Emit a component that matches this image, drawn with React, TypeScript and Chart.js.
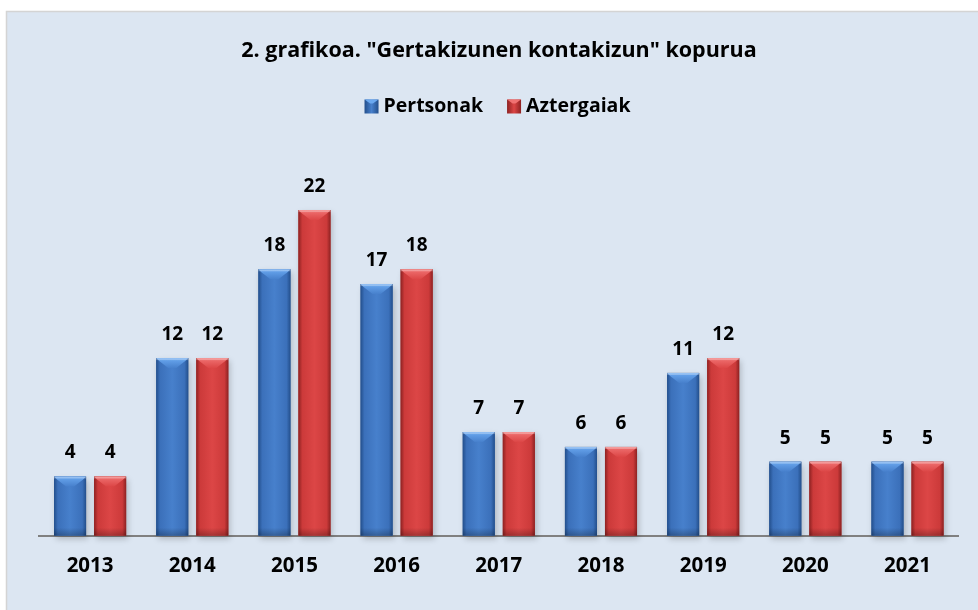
import { useEffect, useRef } from 'react';
import { Chart, registerables } from 'chart.js';

Chart.register(...registerables);

const categories = ['2013', '2014', '2015', '2016', '2017', '2018', '2019', '2020', '2021'];
const pertsonak = [4, 12, 18, 17, 7, 6, 11, 5, 5];
const aztergaiak = [4, 12, 22, 18, 7, 6, 12, 5, 5];
const seriesNames = ['Pertsonak', 'Aztergaiak'];
const titleText = '2. grafikoa. "Gertakizunen kontakizun" kopurua';
const yMax = 25;

const FONT = '"Open Sans", Lato, sans-serif';

const palettes = [
  { base: '#3b70ba', dark: '#234f8c', light: '#6aa8f0', mid: '#4780cc' },
  { base: '#cc3a3a', dark: '#8e2222', light: '#f07272', mid: '#dc4646' },
];

const decorPlugin = {
  id: 'decor',
  beforeDraw(chart: any) {
    const ctx = chart.ctx;
    ctx.save();
    ctx.fillStyle = '#ffffff';
    ctx.fillRect(0, 0, chart.width, chart.height);
    ctx.fillStyle = '#dce6f2';
    ctx.fillRect(6, 11, chart.width, chart.height);
    ctx.strokeStyle = '#d4d4d4';
    ctx.lineWidth = 1.5;
    ctx.beginPath();
    ctx.moveTo(6.5, chart.height + 2);
    ctx.lineTo(6.5, 11.5);
    ctx.lineTo(chart.width + 2, 11.5);
    ctx.stroke();

    // title
    ctx.fillStyle = '#000000';
    ctx.font = `bold 21.5px ${FONT}`;
    ctx.textAlign = 'center';
    ctx.textBaseline = 'middle';
    ctx.fillText(titleText, 499, 51);

    // legend
    ctx.font = `bold 19.5px ${FONT}`;
    const box = 14;
    const gapText = 5;
    const gapItem = 24;
    const w1 = ctx.measureText(seriesNames[0]).width;
    const w2 = ctx.measureText(seriesNames[1]).width;
    const total = box + gapText + w1 + gapItem + box + gapText + w2;
    let x = 497.5 - total / 2;
    const cy = 106.5;
    ctx.textAlign = 'left';
    [w1, w2].forEach((w, i) => {
      const p = palettes[i];
      const g = ctx.createLinearGradient(x, 0, x + box, 0);
      g.addColorStop(0, p.dark);
      g.addColorStop(0.5, p.mid);
      g.addColorStop(1, p.dark);
      ctx.fillStyle = g;
      ctx.fillRect(x, cy - box / 2, box, box);
      ctx.fillStyle = p.light;
      ctx.beginPath();
      ctx.moveTo(x, cy - box / 2);
      ctx.lineTo(x + box, cy - box / 2);
      ctx.lineTo(x + box * 0.6, cy - box / 2 + 4);
      ctx.lineTo(x + box * 0.4, cy - box / 2 + 4);
      ctx.closePath();
      ctx.fill();
      ctx.fillStyle = '#000000';
      ctx.fillText(seriesNames[i], x + box + gapText, cy);
      x += box + gapText + w + gapItem;
    });
    ctx.restore();
  },
  beforeDatasetsDraw(chart: any) {
    const ctx = chart.ctx;
    ctx.save();
    chart.data.datasets.forEach((_: any, di: number) => {
      const meta = chart.getDatasetMeta(di);
      meta.data.forEach((bar: any) => {
        const L = bar.x - bar.width / 2;
        const T = bar.y;
        const B = bar.base;
        ctx.shadowColor = 'rgba(0,0,0,0.35)';
        ctx.shadowBlur = 6;
        ctx.shadowOffsetX = 2;
        ctx.shadowOffsetY = 3;
        ctx.fillStyle = 'rgba(120,120,120,0.6)';
        ctx.fillRect(L, T, bar.width, B - T);
      });
    });
    ctx.restore();
  },
  afterDatasetsDraw(chart: any) {
    const ctx = chart.ctx;
    ctx.save();
    chart.data.datasets.forEach((_: any, di: number) => {
      const p = palettes[di];
      const meta = chart.getDatasetMeta(di);
      meta.data.forEach((bar: any, i: number) => {
        const w = bar.width;
        const L = bar.x - w / 2;
        const R = bar.x + w / 2;
        const T = bar.y;
        const B = bar.base;
        const g = ctx.createLinearGradient(L, 0, R, 0);
        g.addColorStop(0, p.dark);
        g.addColorStop(0.12, p.base);
        g.addColorStop(0.5, p.mid);
        g.addColorStop(0.88, p.base);
        g.addColorStop(1, p.dark);
        ctx.fillStyle = g;
        ctx.fillRect(L, T, w, B - T);
        const bd = Math.min(8, (B - T) / 3);
        const gb = ctx.createLinearGradient(0, B - bd, 0, B);
        gb.addColorStop(0, 'rgba(0,0,0,0)');
        gb.addColorStop(1, 'rgba(0,0,0,0.25)');
        ctx.fillStyle = gb;
        ctx.fillRect(L, B - bd, w, bd);
        const d = Math.min(10, (B - T) / 3);
        const gt = ctx.createLinearGradient(0, T, 0, T + d);
        gt.addColorStop(0, p.light);
        gt.addColorStop(1, p.mid);
        ctx.fillStyle = gt;
        ctx.beginPath();
        ctx.moveTo(L, T);
        ctx.lineTo(R, T);
        ctx.lineTo(R - 3, T + 3);
        ctx.lineTo(bar.x + 4, T + d);
        ctx.lineTo(bar.x - 4, T + d);
        ctx.lineTo(L + 3, T + 3);
        ctx.closePath();
        ctx.fill();
        ctx.fillStyle = 'rgba(255,255,255,0.3)';
        ctx.fillRect(L, T, w, 2);
        const v = chart.data.datasets[di].data[i];
        ctx.fillStyle = '#000000';
        ctx.font = `bold 19px ${FONT}`;
        ctx.textAlign = 'center';
        ctx.textBaseline = 'middle';
        ctx.fillText(String(v), bar.x, T - 23.5);
      });
    });
    ctx.restore();
  },
};

export default function App() {
  const ref = useRef<HTMLCanvasElement | null>(null);
  useEffect(() => {
    if (!ref.current) return;
    const chart = new Chart(ref.current, {
      type: 'bar',
      data: {
        labels: categories,
        datasets: [
          { label: seriesNames[0], data: pertsonak, backgroundColor: palettes[0].base, borderWidth: 0 },
          { label: seriesNames[1], data: aztergaiak, backgroundColor: palettes[1].base, borderWidth: 0 },
        ],
      },
      options: {
        responsive: false,
        animation: false,
        layout: { padding: { left: 39, right: 19.4, top: 165.7, bottom: 0 } },
        datasets: { bar: { categoryPercentage: 0.784, barPercentage: 0.8 } } as any,
        plugins: {
          legend: { display: false },
          title: { display: false },
          tooltip: { enabled: false },
        },
        scales: {
          x: {
            grid: { display: false, drawTicks: false },
            border: { display: true, color: '#808080', width: 2 },
            ticks: {
              color: '#000000',
              font: { family: FONT, weight: 'bold', size: 20.5 },
              padding: 18.5,
            },
            afterFit(scale: any) {
              scale.height = 610 - 535.7;
            },
          },
          y: {
            display: false,
            min: 0,
            max: yMax,
          },
        },
      },
      plugins: [decorPlugin],
    });
    return () => chart.destroy();
  }, []);
  return (
    <div style={{ position: 'fixed', left: 0, top: 0, width: 978, height: 610 }}>
      <canvas ref={ref} width={978} height={610} />
    </div>
  );
}
